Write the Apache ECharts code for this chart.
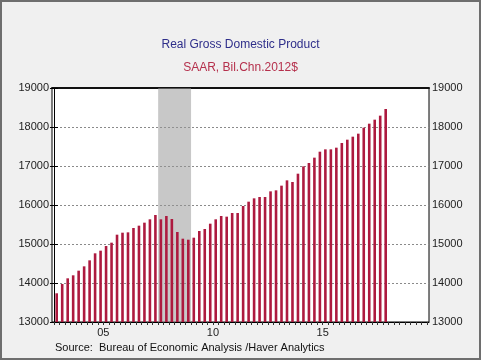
<!DOCTYPE html>
<html><head><meta charset="utf-8">
<script src="https://cdn.jsdelivr.net/npm/echarts@6/dist/echarts.min.js"></script>
<style>html,body{margin:0;padding:0;background:#f0f0f0}#c{width:481px;height:360px}</style>
</head><body><div id="c"></div>
<script>
const quarters = [
 '2003Q2','2003Q3','2003Q4','2004Q1','2004Q2','2004Q3','2004Q4','2005Q1','2005Q2','2005Q3','2005Q4',
 '2006Q1','2006Q2','2006Q3','2006Q4','2007Q1','2007Q2','2007Q3','2007Q4','2008Q1','2008Q2','2008Q3','2008Q4',
 '2009Q1','2009Q2','2009Q3','2009Q4','2010Q1','2010Q2','2010Q3','2010Q4','2011Q1','2011Q2','2011Q3','2011Q4',
 '2012Q1','2012Q2','2012Q3','2012Q4','2013Q1','2013Q2','2013Q3','2013Q4','2014Q1','2014Q2','2014Q3','2014Q4',
 '2015Q1','2015Q2','2015Q3','2015Q4','2016Q1','2016Q2','2016Q3','2016Q4','2017Q1','2017Q2','2017Q3','2017Q4',
 '2018Q1','2018Q2'];
const gdp = [
 13736,13974,14120,14197,14316,14427,14581,14761,14829,14949,15034,
 15239,15290,15299,15410,15470,15547,15633,15744,15633,15718,15641,15308,
 15136,15110,15162,15333,15385,15521,15633,15718,15701,15795,15795,15974,
 16085,16171,16205,16205,16350,16376,16496,16632,16590,16803,16991,17077,
 17214,17367,17427,17427,17470,17590,17675,17752,17829,17983,18085,18188,
 18291,18462];
const yTicks = [13000,14000,15000,16000,17000,18000,19000];
const yearTickQuarter = ['2005Q3','2010Q3','2015Q3'];
const yearLabels = ['05','10','15'];
const recession = ['2008Q1','2009Q2'];

const pos = q => quarters.indexOf(q);           // boundary before quarter q
const barData = gdp.map((v,i)=>[i+0.5, v]);
const tickVals = []; for (let k=0;k<=68;k++) tickVals.push(k);
const labelVals = yearTickQuarter.map(pos);

const chart = echarts.init(document.getElementById('c'), null, {renderer:'canvas'});
const font = 'Arial, "Liberation Sans", sans-serif';
chart.setOption({
  backgroundColor:'#f0f0f0',
  animation:false,
  title:[
    {text:'Real Gross Domestic Product', left:'center', top:34,
     textStyle:{fontFamily:font, fontSize:12, fontWeight:'normal', color:'#2e2e8a'}},
    {text:'SAAR, Bil.Chn.2012$', left:'center', top:57,
     textStyle:{fontFamily:font, fontSize:12, fontWeight:'normal', color:'#b5304c'}}
  ],
  graphic:[
    {type:'rect', shape:{x:1,y:1,width:479,height:358}, style:{fill:'none', stroke:'#6e6e6e', lineWidth:2}, z:100},
    {type:'text', left:55, top:342, style:{text:'Source:  Bureau of Economic Analysis /Haver Analytics', font:'11px Arial, "Liberation Sans", sans-serif', fill:'#111'}}
  ],
  grid:{left:52, right:52, top:88, bottom:38, show:true, backgroundColor:'#fff', borderColor:'#000', borderWidth:1},
  xAxis:[
    {type:'value', min:-0.36, max:68.4, position:'bottom',
     axisLine:{show:true, lineStyle:{color:'#000', width:1}},
     axisTick:{show:true, customValues:tickVals, length:3, lineStyle:{color:'#333'}},
     axisLabel:{show:true, customValues:labelVals, margin:5, fontFamily:font, fontSize:11, color:'#222',
       formatter:v=>{const i=labelVals.indexOf(Math.round(v)); return i>=0?yearLabels[i]:'';}},
     splitLine:{show:false}},
    {type:'value', min:-0.36, max:68.4, position:'top',
     axisLine:{show:true, lineStyle:{color:'#111', width:2}},
     axisTick:{show:false}, axisLabel:{show:false}, splitLine:{show:false}}
  ],
  yAxis:[
    {type:'value', min:yTicks[0], max:yTicks[yTicks.length-1], interval:1000, position:'left',
     axisLine:{show:true, lineStyle:{color:'#000'}},
     axisTick:{show:true, length:4, lineStyle:{color:'#000'}},
     axisLabel:{fontFamily:font, fontSize:11, color:'#222', margin:3, formatter:v=>String(v)},
     splitLine:{show:true, lineStyle:{color:'#8a8a8a', type:[2,2], width:1}}},
    {type:'value', min:yTicks[0], max:yTicks[yTicks.length-1], interval:1000, position:'right',
     axisLine:{show:true, lineStyle:{color:'#000'}},
     axisTick:{show:true, length:4, lineStyle:{color:'#000'}},
     axisLabel:{fontFamily:font, fontSize:11, color:'#222', margin:3, formatter:v=>String(v)},
     splitLine:{show:false}}
  ],
  series:[{
    type:'bar', xAxisIndex:0, yAxisIndex:0, data:barData, barWidth:2.6,
    itemStyle:{color:'#ad1a3f'},
    markArea:{silent:true, itemStyle:{color:'rgba(150,150,150,0.52)'},
      data:[[{xAxis:pos(recession[0])},{xAxis:pos(recession[1])+1}]]}
  }]
});
</script></body></html>
